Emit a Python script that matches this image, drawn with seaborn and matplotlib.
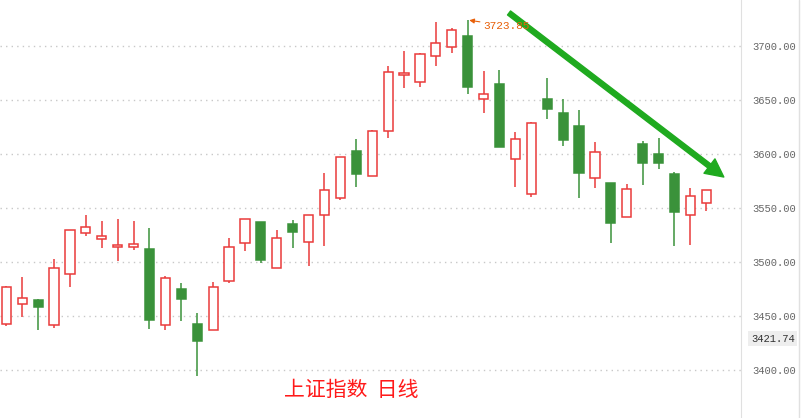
import numpy as np
import matplotlib
matplotlib.use("Agg")
import matplotlib.pyplot as plt
from matplotlib.lines import Line2D
import matplotlib.transforms as mtransforms
import seaborn as sns

# daily OHLC
opens = [3442.3, 3460.8, 3464.5, 3441.4, 3488.6, 3526.6, 3521.6, 3513.6, 3513.6, 3512.0,
         3441.4, 3475.0, 3442.6, 3436.8, 3482.1, 3517.3, 3537.0, 3494.2, 3535.0, 3518.2,
         3543.2, 3559.0, 3602.8, 3579.4, 3621.0, 3672.9, 3666.4, 3690.5, 3698.8, 3709.3,
         3650.6, 3664.8, 3595.1, 3562.7, 3650.6, 3637.7, 3625.9, 3577.5, 3573.1, 3541.4,
         3609.3, 3600.0, 3581.5, 3543.2, 3554.4]
highs = [3477.8, 3486.1, 3465.7, 3502.8, 3529.4, 3543.5, 3538.0, 3539.8, 3538.0, 3531.5,
         3487.0, 3480.6, 3452.8, 3481.5, 3522.2, 3539.5, 3537.0, 3529.6, 3538.9, 3543.2,
         3582.4, 3596.9, 3613.9, 3622.2, 3681.5, 3695.4, 3693.8, 3721.9, 3716.4, 3723.85,
         3676.9, 3677.8, 3620.4, 3629.6, 3670.1, 3650.9, 3640.7, 3611.1, 3573.1, 3572.2,
         3612.3, 3614.8, 3583.3, 3568.5, 3566.4]
lows = [3441.0, 3449.4, 3437.0, 3439.2, 3477.1, 3524.4, 3513.2, 3501.2, 3511.4, 3438.2,
        3437.3, 3445.6, 3394.7, 3436.8, 3480.9, 3510.5, 3499.4, 3494.2, 3513.2, 3496.6,
        3515.1, 3557.7, 3569.7, 3579.4, 3615.1, 3661.4, 3662.3, 3681.8, 3693.2, 3655.8,
        3638.2, 3606.8, 3569.7, 3560.5, 3632.7, 3607.7, 3559.5, 3568.8, 3517.9, 3541.4,
        3571.6, 3586.4, 3515.1, 3516.0, 3547.5]
closes = [3476.6, 3466.4, 3458.6, 3494.2, 3529.4, 3532.1, 3523.8, 3515.5, 3516.4, 3446.6,
          3484.9, 3466.0, 3427.1, 3476.6, 3513.6, 3539.5, 3502.1, 3521.9, 3528.1, 3543.2,
          3566.4, 3596.9, 3581.8, 3621.0, 3675.6, 3675.0, 3692.3, 3702.5, 3714.5, 3662.3,
          3655.6, 3606.8, 3613.6, 3628.4, 3641.9, 3613.2, 3582.7, 3601.6, 3536.4, 3567.3,
          3592.0, 3592.0, 3546.6, 3560.8, 3566.4]
y_ticks = [3400, 3450, 3500, 3550, 3600, 3650, 3700]
peak_label = "3723.85"
last_label = "3421.74"
title = "上证指数  日线"

RED = "#ea3b3b"
GREEN = "#3a923a"

sns.set_style("white")
plt.rcParams['font.family'] = ['Liberation Mono', 'DejaVu Sans']

fig = plt.figure(figsize=(8.01, 4.18), dpi=100)
ax = fig.add_axes([0, 0, 741 / 801, 1])

x = np.arange(len(opens))
o = np.array(opens)
c = np.array(closes)
up = c >= o
cols = np.where(up, RED, GREEN)

# wicks
ax.vlines(x, lows, highs, colors=cols, linewidth=1.1, zorder=2)
# bodies
bottoms = np.minimum(o, c)
heights = np.maximum(np.abs(c - o), 0.6)
ax.bar(x, heights, bottom=bottoms, width=0.58,
       facecolor=np.where(up, "white", GREEN), edgecolor=cols,
       linewidth=1.1, zorder=3)

ax.set_xlim(-0.396, 46.18)
ax.set_ylim(3355.6, 3742.6)
ax.set_xticks([])
ax.set_yticks(y_ticks)
ax.set_yticklabels([f"{v:.2f}" for v in y_ticks], color="#666666", fontsize=7.6)
ax.yaxis.tick_right()
ax.tick_params(axis="y", length=0, pad=8)
ax.grid(axis="y", linestyle=(0, (1, 3)), color="#c8c8c8", linewidth=1)
for s in ["top", "bottom", "left"]:
    ax.spines[s].set_visible(False)
ax.spines["right"].set_color("#e0e0e0")
fig.add_artist(Line2D([799 / 801, 799 / 801], [0, 1], color="#e0e0e0", linewidth=1))

# trend arrow
ax.annotate("", xy=(45.1, 3578.7), xytext=(31.6, 3730.6),
            arrowprops=dict(arrowstyle="simple,head_length=1.3,head_width=1.3,tail_width=0.36",
                            color="#1faa1f", mutation_scale=10, shrinkA=0, shrinkB=0),
            zorder=5)

# peak annotation
ipk = int(np.argmax(highs))
ax.annotate(peak_label, xy=(ipk + 0.1, highs[ipk]), xytext=(10, -4),
            textcoords="offset points", color="#e8600a", fontsize=8,
            va="center", ha="left", zorder=6,
            arrowprops=dict(arrowstyle="-|>", color="#e8600a", lw=0.8,
                            mutation_scale=7, shrinkA=0, shrinkB=0))

# last price box on the axis
trans = mtransforms.blended_transform_factory(ax.transAxes, ax.transAxes)
ax.text(1.0 + 10 / 741, 1 - 338.5 / 418, last_label, transform=trans, fontsize=7.6,
        color="#333333", va="center", ha="left", clip_on=False,
        bbox=dict(boxstyle="square,pad=0.25", facecolor="#eeeeee", edgecolor="none"))

fig.text(351.5 / 801, 1 - 390 / 418, title, color="#ff1a1a", fontsize=15,
         ha="center", va="center", family=['Noto Sans CJK SC', 'DejaVu Sans'])

fig.savefig("out.png", dpi=100)
